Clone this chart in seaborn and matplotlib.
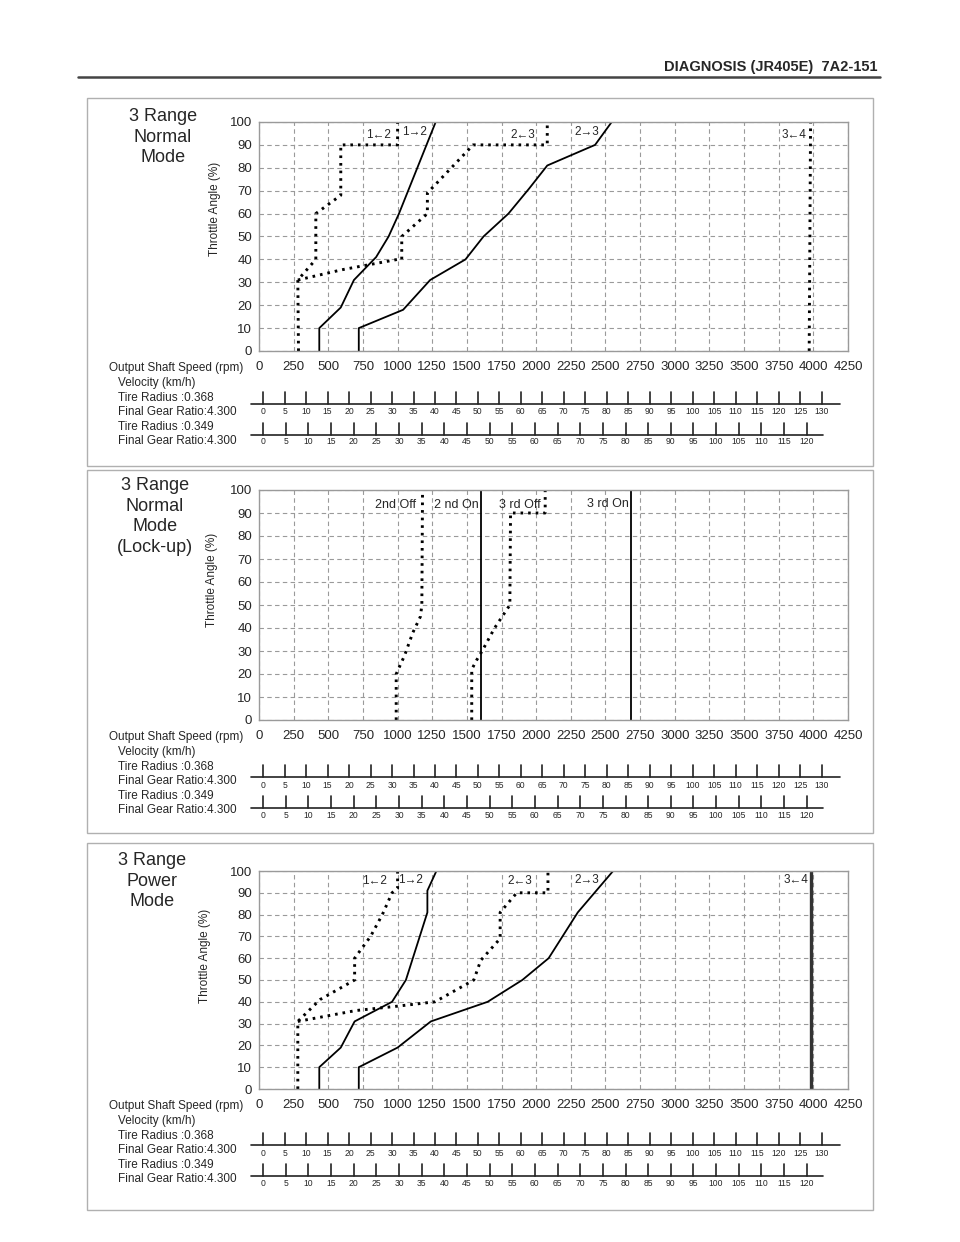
import matplotlib
matplotlib.use("Agg")
import matplotlib.pyplot as plt
import matplotlib.transforms as mtransforms
from matplotlib.patches import Rectangle
import numpy as np
import pandas as pd
import seaborn as sns

W, H = 960, 1242

# axis ticks
rpm_ticks = list(range(0, 4251, 250))
throttle_ticks = list(range(0, 101, 10))

# velocity scales
tire_radius = [0.368, 0.349]
final_gear_ratio = 4.300
vel_max = [130, 120]
vel_step = 5

# --- 3 Range Normal Mode ---
normal_12_down_rpm = [285, 280, 410, 410, 590, 590, 1000, 1000]
normal_12_down_thr = [0, 31, 40, 60, 68, 90, 90, 100]
normal_12_up_rpm = [435, 435, 590, 685, 845, 935, 1010, 1275]
normal_12_up_thr = [0, 10, 19, 31, 41, 50, 60, 100]
normal_23_down_rpm = [280, 600, 1000, 1030, 1030, 1215, 1215, 1545, 2080, 2080]
normal_23_down_thr = [31, 35.5, 40, 40, 50, 60, 69, 90, 90, 100]
normal_23_up_rpm = [720, 720, 1040, 1235, 1490, 1620, 1800, 1950, 2080, 2425, 2545]
normal_23_up_thr = [0, 10, 18, 31, 40, 50, 60, 71, 81, 90, 100]
normal_34_down_rpm = [3970, 3980]
normal_34_down_thr = [0, 100]

# --- 3 Range Normal Mode (Lock-up) ---
lockup_2nd_off_rpm = [990, 990, 1050, 1110, 1165, 1175, 1180]
lockup_2nd_off_thr = [0, 20, 28, 38, 45, 50, 100]
lockup_2nd_on_rpm = [1605, 1605]
lockup_2nd_on_thr = [0, 100]
lockup_3rd_off_rpm = [1535, 1535, 1570, 1610, 1700, 1810, 1815, 2065, 2065]
lockup_3rd_off_thr = [0, 22, 26, 30, 40, 50, 90, 90, 100]
lockup_3rd_on_rpm = [2685, 2685]
lockup_3rd_on_thr = [0, 100]

# --- 3 Range Power Mode ---
power_12_down_rpm = [280, 280, 440, 690, 690, 805, 890, 960, 1000, 1000]
power_12_down_thr = [0, 31, 41, 50, 60, 70, 80, 90, 92, 100]
power_12_up_rpm = [435, 435, 590, 690, 960, 1060, 1215, 1215, 1280]
power_12_up_thr = [0, 10, 19, 31, 40, 50, 81, 91, 100]
power_23_down_rpm = [280, 700, 1000, 1270, 1550, 1600, 1740, 1740, 1860, 2085, 2085]
power_23_down_thr = [31, 36, 38, 40, 50, 59, 69, 81, 90, 90, 100]
power_23_up_rpm = [720, 720, 1000, 1240, 1650, 1900, 2090, 2300, 2555]
power_23_up_thr = [0, 10, 19, 31, 40, 50, 60, 81, 100]
power_34_down_rpm = [3980, 3980]
power_34_down_thr = [0, 100]

sns.set_style("white")
plt.rcParams['font.family'] = ['Liberation Sans', 'DejaVu Sans']

fig = plt.figure(figsize=(W / 100, H / 100), dpi=100)


def fx(px):
    return px / W


def fy(py):
    return 1 - py / H


DOT = dict(color='black', lw=2.1, linestyle=(0, (0.9, 1.7)))
SOLID = dict(color='black', lw=1.3, linestyle='-')
VEL_SHIFT = 30  # rpm offset of the km/h scales


def curve(ax, rpm, thr, style):
    df = pd.DataFrame({'rpm': rpm, 'thr': thr})
    sns.lineplot(data=df, x='rpm', y='thr', ax=ax, sort=False, estimator=None,
                 legend=False, **style)


def make_panel(top, bottom, box, title, title_xy, ylab_xy, vshift=0):
    # panel frame
    x0, y0, x1, y1 = box
    fig.patches.append(Rectangle((fx(x0), fy(y1)), fx(x1) - fx(x0), (y1 - y0) / H,
                                 transform=fig.transFigure, fill=False,
                                 edgecolor='#b0b0b0', lw=1.0))
    ax = fig.add_axes([fx(259), fy(bottom), fx(848) - fx(259), (bottom - top) / H])
    fig.text(fx(ylab_xy[0]), fy(ylab_xy[1]), 'Throttle Angle (%)', rotation=90,
             ha='center', va='center', fontsize=8.5)
    fig.text(fx(title_xy[0]), fy(title_xy[1]), title, ha='center', va='top',
             fontsize=13, linespacing=1.28)

    # left text block
    fig.text(fx(243), fy(bottom + 17), 'Output Shaft Speed (rpm)', ha='right',
             va='center', fontsize=8.5)
    lines = ['Velocity (km/h)']
    for r in tire_radius:
        lines += [f'Tire Radius :{r:.3f}', f'Final Gear Ratio:{final_gear_ratio:.3f}']
    for off, s in zip([32, 47, 61, 76, 90], lines):
        fig.text(fx(118), fy(bottom + off), s, ha='left', va='center', fontsize=8.5)

    # velocity scales
    trans = mtransforms.blended_transform_factory(ax.transData, fig.transFigure)
    for r, vmax, yl, ylab, ext in zip(tire_radius, vel_max, [53, 84], [61, 91], [130, 120]):
        yl += vshift
        ylab += vshift
        factor = 2 * np.pi * r * 60 / 1000 / final_gear_ratio
        kmh = np.arange(0, vmax + 1, vel_step)
        rpm = kmh / factor + VEL_SHIFT
        ax.plot([rpm[0] - 90, rpm[-1] + ext], [fy(bottom + yl)] * 2, transform=trans,
                color='#222222', lw=1.2, clip_on=False)
        for rr, k in zip(rpm, kmh):
            ax.plot([rr, rr], [fy(bottom + yl), fy(bottom + yl - 12)], transform=trans,
                    color='#222222', lw=1.2, clip_on=False)
            ax.text(rr, fy(bottom + ylab), str(k), transform=trans, ha='center',
                    va='center', fontsize=6.2)
    return ax


def finish(ax):
    ax.set_xlim(0, 4250)
    ax.set_ylim(0, 100)
    ax.set_xticks(rpm_ticks)
    ax.set_yticks(throttle_ticks)
    ax.set_xticklabels([str(t) for t in rpm_ticks], fontsize=9.5)
    ax.set_yticklabels([str(t) for t in throttle_ticks], fontsize=9.5)
    ax.tick_params(axis='x', length=0, pad=7)
    ax.tick_params(axis='y', length=0, pad=5)
    ax.grid(True, color='#9a9a9a', lw=0.8, linestyle=(0, (4, 3)))
    for s in ax.spines.values():
        s.set_color('#9a9a9a')
        s.set_linewidth(1.0)
    ax.set_xlabel('')
    ax.set_ylabel('')


# header
fig.text(fx(877), fy(67), 'DIAGNOSIS (JR405E)  7A2-151', ha='right', va='center',
         fontsize=10.5, fontweight='bold')
fig.lines.append(plt.Line2D([fx(78), fx(880)], [fy(77), fy(77)], transform=fig.transFigure,
                            color='#444444', lw=1.8))

lab = dict(fontsize=8.5, va='center')

# panel 1
ax1 = make_panel(122, 351, (87, 98, 873, 466), '3 Range\nNormal\nMode', (163, 108), (215, 209))
curve(ax1, normal_12_down_rpm, normal_12_down_thr, DOT)
curve(ax1, normal_12_up_rpm, normal_12_up_thr, SOLID)
curve(ax1, normal_23_down_rpm, normal_23_down_thr, DOT)
curve(ax1, normal_23_up_rpm, normal_23_up_thr, SOLID)
curve(ax1, normal_34_down_rpm, normal_34_down_thr, DOT)
ax1.text(950, 94.5, '1←2', ha='right', **lab)
ax1.text(1030, 95.5, '1→2', ha='left', **lab)
ax1.text(1990, 94.5, '2←3', ha='right', **lab)
ax1.text(2275, 95.5, '2→3', ha='left', **lab)
ax1.text(3950, 94.5, '3←4', ha='right', **lab)
finish(ax1)

# panel 2
ax2 = make_panel(490, 720, (87, 470, 873, 833), '3 Range\nNormal\nMode\n(Lock-up)', (155, 477),
                 (212, 580), vshift=4)
curve(ax2, lockup_2nd_off_rpm, lockup_2nd_off_thr, DOT)
curve(ax2, lockup_2nd_on_rpm, lockup_2nd_on_thr, SOLID)
curve(ax2, lockup_3rd_off_rpm, lockup_3rd_off_thr, DOT)
curve(ax2, lockup_3rd_on_rpm, lockup_3rd_on_thr, SOLID)
lab2 = dict(fontsize=9, va='center')
ax2.text(1130, 93.5, '2nd Off', ha='right', **lab2)
ax2.text(1585, 93.5, '2 nd On', ha='right', **lab2)
ax2.text(2035, 93.5, '3 rd Off', ha='right', **lab2)
ax2.text(2670, 94, '3 rd On', ha='right', **lab2)
finish(ax2)

# panel 3
ax3 = make_panel(871, 1089, (87, 843, 873, 1210), '3 Range\nPower\nMode', (152, 852),
                 (205, 956), vshift=3)
curve(ax3, power_12_down_rpm, power_12_down_thr, DOT)
curve(ax3, power_12_up_rpm, power_12_up_thr, SOLID)
curve(ax3, power_23_down_rpm, power_23_down_thr, DOT)
curve(ax3, power_23_up_rpm, power_23_up_thr, SOLID)
curve(ax3, power_34_down_rpm, power_34_down_thr, dict(color='#333333', lw=2.4, linestyle='-'))
ax3.text(925, 95.5, '1←2', ha='right', **lab)
ax3.text(1005, 96, '1→2', ha='left', **lab)
ax3.text(1970, 95.5, '2←3', ha='right', **lab)
ax3.text(2275, 96, '2→3', ha='left', **lab)
ax3.text(3965, 96, '3←4', ha='right', **lab)
finish(ax3)

fig.savefig('out.png', dpi=100)
